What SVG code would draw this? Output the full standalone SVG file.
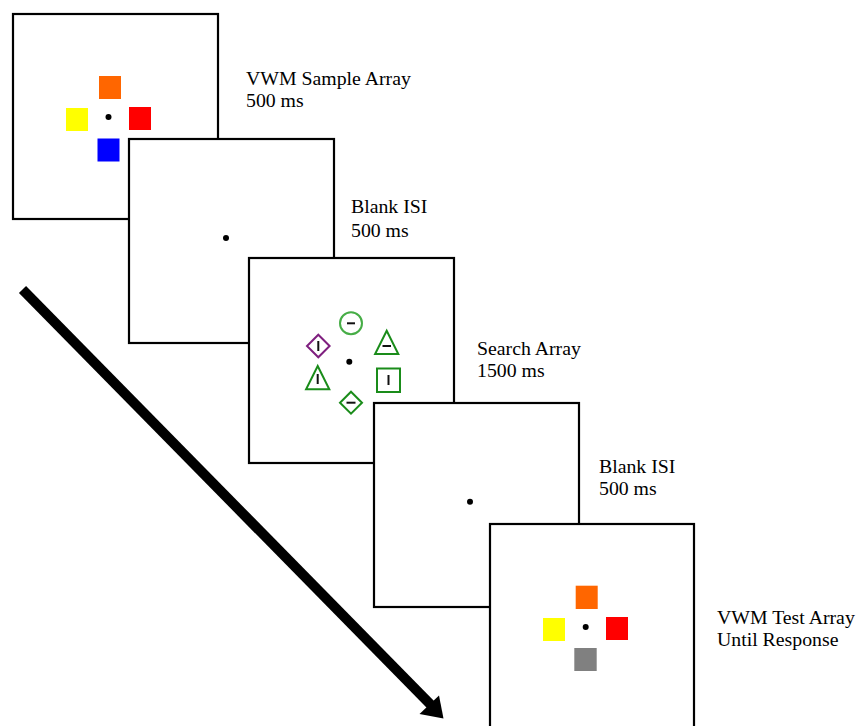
<svg xmlns="http://www.w3.org/2000/svg" width="859" height="726" viewBox="0 0 859 726">
<style>
.frame{fill:#fff;stroke:#000;stroke-width:2.2}
.lbl{font-family:"Liberation Serif","Times New Roman",serif;font-size:19.8px;fill:#000}
.dot{fill:#000}
.g{fill:none;stroke:#1a8c1a;stroke-width:2}
.gl{fill:none;stroke:#46ad46;stroke-width:2}
.p{fill:none;stroke:#7f1f7f;stroke-width:2}
.bar{stroke:#111;stroke-width:2}
</style>
<rect width="859" height="726" fill="#fff"/>
<g id="frame1">
<rect class="frame" x="13" y="14" width="205" height="205"/>
<rect x="99" y="76" width="22" height="23" fill="#ff6600"/>
<rect x="66" y="108" width="22" height="23" fill="#ffff00"/>
<rect x="129" y="107" width="22" height="23" fill="#ff0000"/>
<rect x="97.5" y="138.5" width="22" height="23" fill="#0000ff"/>
<circle class="dot" cx="108.5" cy="117" r="3"/>
<text class="lbl" x="246" y="85">VWM Sample Array</text>
<text class="lbl" x="246" y="107">500 ms</text>
</g>
<g id="frame2">
<rect class="frame" x="129" y="139" width="205" height="204"/>
<circle class="dot" cx="226" cy="238" r="3"/>
<text class="lbl" x="351" y="213">Blank ISI</text>
<text class="lbl" x="351" y="237">500 ms</text>
</g>
<g id="frame3">
<rect class="frame" x="249" y="258" width="205" height="205"/>
<circle class="dot" cx="349.3" cy="361.7" r="3"/>
<circle class="gl" cx="351" cy="323.3" r="11"/>
<line class="bar" x1="347" y1="323.3" x2="355" y2="323.3"/>
<polygon class="p" points="318.3,334.7 329.6,346 318.3,357.3 307,346"/>
<line class="bar" x1="318.3" y1="341" x2="318.3" y2="351"/>
<polygon class="g" points="386.7,330.7 398.3,354 375.1,354"/>
<line class="bar" x1="382.5" y1="346" x2="391" y2="346"/>
<polygon class="g" points="317.7,366 329.3,389.3 306.1,389.3"/>
<line class="bar" x1="317.7" y1="374" x2="317.7" y2="384"/>
<rect class="g" x="377" y="368.5" width="23" height="23.5"/>
<line class="bar" x1="388.5" y1="375" x2="388.5" y2="385"/>
<polygon class="g" points="351,391.7 362,402.7 351,413.7 340,402.7"/>
<line class="bar" x1="346.5" y1="402.7" x2="355.5" y2="402.7"/>
<text class="lbl" x="477" y="355">Search Array</text>
<text class="lbl" x="477" y="377">1500 ms</text>
</g>
<g id="frame4">
<rect class="frame" x="374" y="403" width="205" height="204"/>
<circle class="dot" cx="470" cy="501.7" r="3"/>
<text class="lbl" x="599" y="473">Blank ISI</text>
<text class="lbl" x="599" y="495">500 ms</text>
</g>
<g id="frame5">
<rect class="frame" x="490" y="524" width="204" height="210"/>
<rect x="575.7" y="585.7" width="22" height="23.3" fill="#ff6600"/>
<rect x="543" y="618" width="22" height="23" fill="#ffff00"/>
<rect x="606" y="617" width="22" height="23" fill="#ff0000"/>
<rect x="574.3" y="648" width="22.4" height="23" fill="#808080"/>
<circle class="dot" cx="585.7" cy="627" r="3"/>
<text class="lbl" x="717" y="624">VWM Test Array</text>
<text class="lbl" x="717" y="646">Until Response</text>
</g>
<g id="connectors">
<line x1="22.5" y1="289.5" x2="431" y2="705" stroke="#000" stroke-width="10"/>
<polygon points="443.5,718.5 419.5,714 439,695.5" fill="#000"/>
</g>
</svg>
